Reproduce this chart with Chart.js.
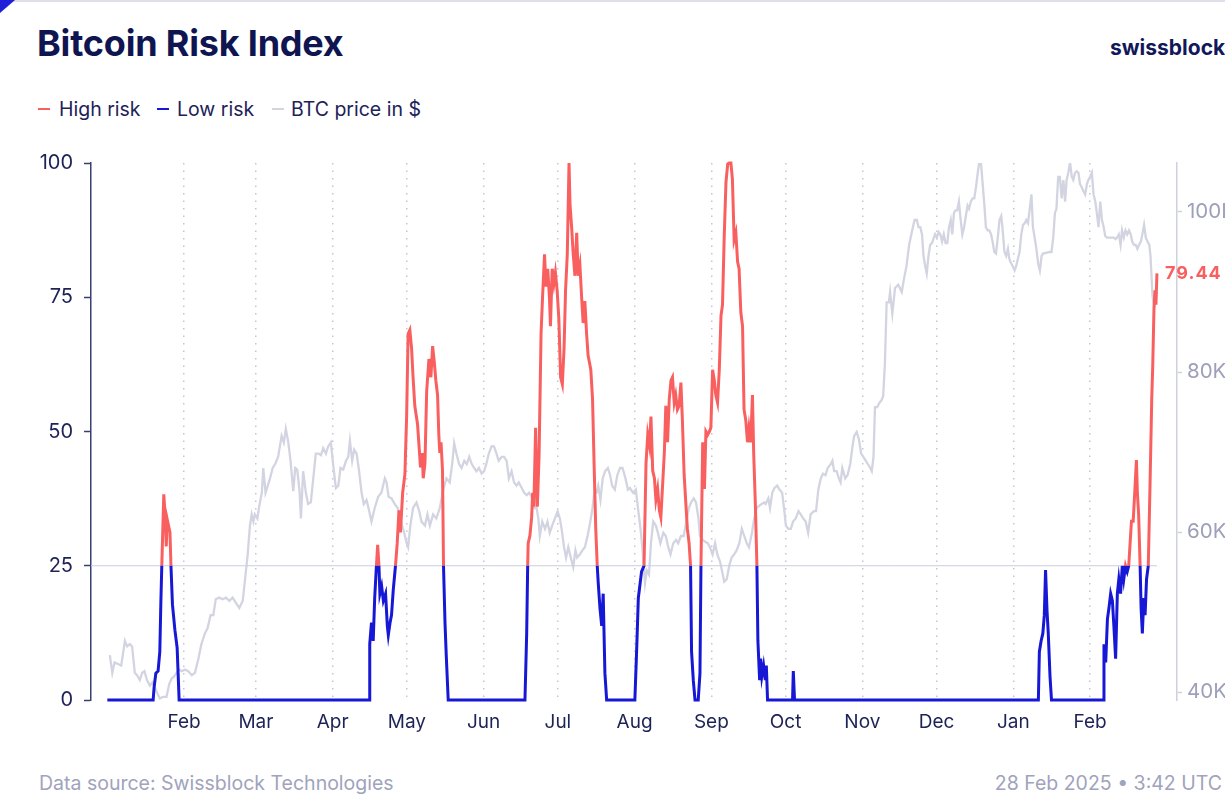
<!DOCTYPE html>
<html lang="en">
<head>
<meta charset="utf-8">
<title>Bitcoin Risk Index</title>
<script src="https://cdn.jsdelivr.net/npm/chart.js@4.4.1/dist/chart.umd.min.js"></script>
<style>
  html, body { margin: 0; padding: 0; background: #fff; overflow: hidden; }
  body { width: 1225px; height: 809px; position: relative; font-family: Inter, 'Noto Sans', sans-serif; color: #151b52; }
  .borde-sup { position: absolute; left: 0; top: 0; width: 1225px; height: 2px; background: #dedfe8; }
  .esquina { position: absolute; left: 0; top: 0; width: 0; height: 0; border-top: 13px solid #1f1fd8; border-right: 15px solid transparent; }
  h1 { position: absolute; left: 37px; top: 21px; margin: 0; font-size: 36px; line-height: 44px; font-weight: 700; letter-spacing: -0.2px; color: #0f1550; white-space: nowrap; }
  .logo { position: absolute; left: 1110px; top: 35px; font-size: 21px; font-weight: 700; color: #12185a; white-space: nowrap; }
  .item { position: absolute; top: 97px; font-size: 19.5px; line-height: 24px; white-space: nowrap; color: #1d2257; }
  .raya { position: absolute; top: 11px; width: 12px; height: 2px; }
  .pie { position: absolute; top: 771px; font-size: 19.5px; line-height: 24px; color: #a0a3bd; white-space: nowrap; }
  #marco { position: absolute; left: 0; top: 140px; width: 1250px; height: 600px; }
</style>
</head>
<body>
  <div class="borde-sup"></div>
  <div class="esquina"></div>
  <h1>Bitcoin Risk Index</h1>
  <div class="logo">swissblock</div>

  <div class="item" style="left:38px"><span class="raya" style="left:0;background:#fa5f5f"></span><span style="margin-left:21px">High risk</span></div>
  <div class="item" style="left:157px"><span class="raya" style="left:0;background:#1717d6"></span><span style="margin-left:20px">Low risk</span></div>
  <div class="item" style="left:272px"><span class="raya" style="left:0;background:#d3d4e1"></span><span style="margin-left:19px">BTC price in $</span></div>

  <div id="marco"><canvas id="grafico"></canvas></div>

  <div class="pie" style="left:39px">Data source: Swissblock Technologies</div>
  <div class="pie" style="right:3px">28 Feb 2025 • 3:42 UTC</div>

<script>
// Índice de riesgo: [día desde 1 ene 2024, valor 0-100]
const riskIndex = [
  [0,0],[18.5,0],[18.9,2.4],[19.6,5],[20.5,5.4],[21.2,9],[21.6,17.8],[22,25],[22.8,38.3],[23.4,34],
  [23.8,28.6],[24.2,33.6],[25.3,31.2],[25.7,25],[26.3,17.8],[27.3,13],[28.2,9.7],[29,0],
  [105.8,0],[106,10.4],[106.7,14.4],[107.4,11],[108,19],[108.7,25],[109.2,28.9],[109.7,25.2],[110.1,19.8],
  [110.8,21.2],[111.5,18.5],[112.4,19.8],[113.1,13.8],[113.5,12.1],[114.2,14.4],[114.8,15.8],[115.5,20.5],
  [116.4,25],[117.1,29.2],[117.8,35.3],[118.4,31.2],[119.3,38.6],[120.2,42],[120.9,52.8],[121.5,68.2],
  [122.2,68.9],[122.9,65.5],[123.5,60.1],[124.2,54.8],[125.3,51.4],[126,46.7],[126.5,43.3],[127.2,46],
  [127.6,41.3],[128.3,44],[129,57.5],[129.9,63.5],[130.7,60.1],[131.4,65.9],[132.1,62.8],[132.7,59.5],
  [133.4,56.8],[133.9,49.4],[134.3,46],[134.8,48],[135.4,42.7],[135.8,25],[136.4,14.4],[136.9,8.4],[137.7,0],
  [168.7,0],[169.4,12.4],[169.8,25],[170,29.2],[170.7,30.6],[171.4,34],[171.8,38.6],[172.3,36],[173,50.7],
  [173.7,36],[174.4,45.4],[175.2,68.2],[175.8,74.9],[176.6,83],[177.2,77],[177.9,80.3],[178.6,74.9],
  [179,69.6],[179.7,80.3],[180.4,77.6],[181,79.6],[181.7,76.3],[182.4,70.9],[183.1,60.1],[183.8,58.8],
  [184.5,65.5],[185.1,76.3],[185.8,83],[186.5,100],[186.9,92.4],[187.6,87.7],[188.2,83],[188.9,79],
  [189.6,87],[190.2,79],[190.9,81],[191.6,74.9],[192.2,70.2],[192.9,74.3],[193.6,68.2],[194.2,64.2],
  [195.3,61.5],[196,56.1],[196.7,42.7],[197.3,31.9],[197.9,25],[198.3,21.8],[199,17.1],[199.7,13.8],
  [200.3,19.8],[201,5],[201.7,0],
  [213.1,0],[213.8,9],[214.5,19],[215.8,23.9],[216.8,25],[217.6,44],[218.3,49.4],[219,47.4],[219.6,52.8],
  [220.3,42.7],[221,41.3],[221.6,37.3],[222.3,39.3],[223,35.3],[223.6,34],[224.3,40],[225,46],[225.6,54.8],
  [226.3,48],[227,56.1],[227.7,59.5],[228.3,60.1],[229,55.4],[229.6,56.8],[230.3,54.1],[231,54.8],
  [231.7,59.1],[232.3,52.1],[233,42],[233.6,37.3],[234.3,31.9],[235,29.2],[235.6,25],[236,9],[236.7,3.7],
  [237.4,0],[238.7,0],[239.4,5],[239.8,25],[240.5,48],[241.2,39.3],[241.8,50],[242.5,49.4],[243.2,50],
  [243.8,50.7],[244.5,61.5],[245.2,59.5],[245.8,56.8],[246.5,55.4],[247.2,61.5],[247.9,71.6],[248.5,73.6],
  [249.2,86.4],[249.9,96.4],[250.6,99.8],[251.2,100],[251.9,100],[252.5,97],[253.2,85.7],[253.9,87],
  [254.6,81.6],[255.2,80.3],[255.9,72.2],[256.6,69.6],[257.2,54.1],[257.9,52.1],[258.6,48],[259.2,50.7],
  [259.9,48],[260.6,56.8],[261.1,46],[261.8,36],[262.4,25],[262.8,11],[263.5,3.7],[263.9,7.7],[264.4,4.4],
  [265.1,6.4],[265.8,3.7],[266.2,6.4],[266.7,0],
  [276.8,0],[277.1,5.4],[277.6,0],
  [376.1,0],[376.5,9],[377.2,11],[377.9,12.4],[378.5,15.8],[379,24.2],[379.6,16.5],[380.1,12.4],[380.8,4.4],[381.4,0],
  [402.3,0],[402.6,10.4],[403.3,7],[404,15.1],[404.6,17.1],[405.3,19.8],[406,18.5],[406.6,13.8],[407.3,7.7],
  [408,19.8],[408.6,22.5],[409.3,19.8],[410,25],[410.6,22.5],[411.3,25],[412,23.9],[412.6,25],[413.7,33.3],
  [414.4,33.3],[415.1,39.3],[415.7,44.7],[416.1,38.6],[416.6,34.6],[417.2,25],[417.6,17.1],[418.1,12.4],
  [418.7,19],[419.2,15.8],[419.8,22.5],[420.5,25],[421.2,40],[421.9,56.1],[422.3,62.2],[422.8,72.9],
  [423.2,76.3],[423.6,73.6],[424,79.44]
];

// Precio BTC en miles de $: [día desde 1 ene 2024, precio]
const btcPrice = [
  [1,44.6],[2,42.4],[2.9,43.7],[4.3,43.5],[5.6,43.3],[7.1,46.4],[8,45.7],[9.1,46],[10,45.7],[11.1,42.4],
  [12,42.1],[13.1,41.5],[14.1,42.4],[15,42.6],[16,41.5],[17.2,40.8],[18.2,41.2],[19.2,40.6],[20.1,39.9],
  [21.2,39.2],[22.6,39.4],[23.9,39.4],[25,41],[26,41.7],[26.9,41.9],[28,42.4],[29,42.8],[30,42.6],
  [31.3,42.8],[32.7,42.6],[34.1,42.1],[35.4,42.4],[36.8,44.2],[38,46],[39.4,47.3],[40.5,48],[41.7,49.6],
  [42.8,49.6],[43.8,51.6],[45.2,51.8],[46.6,51.6],[47.9,51.8],[49.3,51.4],[50.6,51.8],[52,51.1],[53.3,50.5],
  [54.7,51.4],[55.6,54],[56.7,57.2],[57.6,60.8],[58.3,62.2],[59,61.3],[59.6,62.2],[60.6,61.7],[61.4,63.3],
  [62.4,64.9],[63,68],[63.9,64.9],[64.8,65.8],[65.7,66.7],[66.8,68],[67.8,68.5],[69,69.4],[70.4,72],
  [71.3,71.2],[72.1,72.9],[73.1,71.2],[74,68.9],[75.1,65.1],[75.9,68],[76.7,67.8],[77.6,65.3],[78.2,61.7],
  [79.1,67.6],[80.2,64.9],[81.1,63.5],[82.2,63.7],[83.2,66.7],[84.2,69.8],[85.3,69.8],[86.3,69.6],
  [87.2,70.5],[88.3,69.8],[89.2,70.7],[90.3,71.2],[91.2,68.5],[92.3,65.5],[93.3,65.8],[94.2,68],[95.3,67.8],
  [96.4,68.9],[97.3,69.4],[98,71.4],[98.9,68.9],[99.7,70.3],[100.7,69.8],[101.7,67.6],[102.7,64.9],
  [103.6,63.5],[104.7,64],[105.5,63],[106.7,61.3],[108,63],[109.4,64.4],[110.7,64.9],[112.1,66.7],
  [112.8,66.2],[113.6,64.4],[114.8,64.2],[116.1,63.5],[117.3,63],[118.6,61.3],[119.9,59.9],[120.9,58.6],
  [121.5,58.1],[122.4,60.8],[123.5,63],[124.9,63.7],[126,62.6],[126.9,61.3],[128.3,60.8],[129.3,62.2],
  [130.3,60.8],[131.6,62.2],[132.9,61.7],[134.3,63],[135.7,65.3],[137,66.7],[138.3,66.2],[139.3,68.5],
  [140.1,71.1],[141,69.8],[142.1,68.5],[143.1,68],[144.2,68.9],[145.2,68.5],[146.2,69.4],[147.2,68.5],
  [148.2,68],[149.1,67.6],[150.1,68],[151.2,67.3],[152.2,67.6],[153.1,68.5],[154.1,69.8],[155.2,70.7],
  [156.2,70.7],[157.2,69.8],[158.1,68.9],[159.3,69.4],[160.3,69.4],[161.3,68.9],[162.2,66.7],[163.3,67.6],
  [164.3,66.2],[165.3,65.8],[166.2,66.2],[167.4,65.5],[168.4,64.9],[169.4,64.6],[170.4,64.9],[171.4,64.4],
  [172.4,63],[173.4,63],[174.1,61.7],[174.7,59.5],[175.7,61.3],[176.8,60.4],[177.8,61.3],[178.7,59.9],
  [179.7,60.8],[180.8,61.7],[181.9,62.6],[182.8,61.7],[183.5,60.4],[184.5,58.1],[185.3,56.8],[186.2,58.1],
  [187.2,56.8],[188.2,55.6],[189.1,57.7],[189.8,56.8],[190.9,57.2],[191.9,57.7],[192.9,58.1],[194,59.5],
  [195.1,61.3],[196,63],[196.7,64.9],[197.6,64.9],[198.3,65.8],[199.2,64],[200.1,66.7],[201.1,67.6],
  [202.2,68],[203.1,67.1],[203.9,65.8],[205,65.3],[206,67.1],[207.1,68],[208.1,68],[209.3,66.7],
  [210.3,65.3],[211.1,65.5],[212.4,64.9],[213.5,65.3],[214.5,62.6],[215.4,60.4],[216.2,57.7],[217.2,53.6],
  [217.9,55.2],[218.8,54.7],[219.6,58.6],[220.5,61.3],[221.6,60.8],[222.4,59.9],[223.4,58.6],[224.6,59.9],
  [225.6,59.5],[226.6,58.1],[227.5,57.2],[228.6,58.6],[229.7,59],[230.6,58.6],[231.7,59.5],[232.8,59.5],
  [233.9,61.3],[234.9,63],[235.8,63.7],[236.9,64.2],[237.8,63.7],[238.8,61.7],[239.4,59.5],[240.5,59],
  [241.4,58.8],[242.5,58.6],[243.4,58.1],[244.5,57.2],[245.5,58.6],[246.4,57.2],[247.5,56.3],[248.4,55],
  [249.2,53.8],[250.2,54.1],[251.3,55.9],[252.2,56.8],[253.2,57.2],[254.2,57.7],[255.3,58.6],[256.3,60.4],
  [257.3,59.5],[258.3,58.6],[259.2,58.1],[260.4,59.9],[261.3,61.7],[262.3,63],[263.4,63.3],[264.3,63.5],
  [265.3,63.7],[265.9,63.5],[267,64.2],[267.7,63],[268.6,64.9],[269.5,65.5],[270.6,65.8],[271.5,65.3],
  [272.6,64.9],[273.5,62.6],[274.1,60.8],[275.1,60.4],[276.1,60.4],[277,61.3],[278.1,61.7],[279.2,62.6],
  [280.1,62.2],[281.1,61.7],[282.1,61.3],[283.1,59.9],[284.1,62.2],[285.4,62.6],[286.3,62.6],[287.2,65.3],
  [288.2,66.7],[289.1,67.3],[290.1,67.1],[291,68],[292.3,68.5],[292.9,68.9],[293.6,67.6],[294.6,67.6],
  [295.5,66.7],[296.2,66.2],[296.9,68],[298.1,66.7],[299,67.1],[300.1,68.5],[301,70.7],[301.7,72],
  [302.7,72.5],[303.6,71.6],[304.5,69.8],[305.4,69.4],[306.4,68.9],[307.2,68.5],[308.2,68],[308.8,67.6],
  [309.5,69.4],[310.1,75.6],[311,75.6],[311.8,76.1],[312.8,76.5],[313.4,77],[314.1,81],[314.8,88.7],
  [315.7,88.7],[316.2,90],[317.1,87.3],[318.2,90.5],[319.5,90.9],[320.9,90],[321.9,91.8],[322.8,93.2],
  [323.9,95.9],[325.4,98.1],[326.1,99],[327,99],[327.7,98.1],[328.4,98.1],[329.1,97.2],[329.7,94.5],
  [330.4,93.2],[331,92.3],[331.7,94.5],[332.4,95.9],[333.1,96.1],[334.4,97.2],[335.1,96.8],[335.8,97.5],
  [336.5,97.2],[337.2,96.3],[337.9,97.2],[338.6,96.1],[339.3,96.1],[340,98.1],[340.7,99],[341.3,97.2],
  [342,99.9],[342.6,100.2],[343.3,100.2],[344,101.3],[344.7,99],[345.4,97.2],[346.1,98.1],[346.8,99.5],
  [347.5,100.8],[348.1,100.4],[348.8,101.3],[349.5,101.7],[350.2,101.7],[350.9,103.1],[351.6,104.9],
  [352.2,106.2],[352.9,106.2],[353.6,103.5],[354.3,100.8],[354.9,98.1],[355.6,97.7],[356.3,97.7],[357,97.2],
  [357.6,96.3],[358.3,95],[359,94.8],[359.7,96.8],[360.4,99],[361.1,99.5],[361.7,97.7],[362.4,95],
  [363.1,94.5],[363.8,95.4],[364.4,94.1],[365.1,93.6],[365.8,93.2],[366.5,92.7],[367.1,93.2],[367.8,94.1],
  [368.5,95],[369.2,97.2],[369.9,98.4],[370.6,98.6],[371.2,99],[371.9,98.6],[372.6,100.4],[373.3,102.2],
  [373.9,98.1],[374.6,96.8],[375.3,95.4],[376,93.6],[376.7,92.7],[377.4,94.5],[378,94.8],[380.7,95],
  [381.4,95],[382.1,96.8],[382.8,99.9],[383.4,100.4],[384.1,104.4],[384.8,104.4],[385.5,101.7],[386.2,104],
  [386.9,101.3],[387.5,104],[388.2,104.9],[388.9,106.2],[389.6,104.4],[390.2,104],[390.9,104.9],[391.6,105.1],
  [392.3,104.9],[392.9,103.5],[393.6,103.1],[394.3,102.6],[395,102.2],[395.7,103.5],[396.3,104],[397,104.4],
  [397.7,104.9],[398.4,102.2],[399.1,101.3],[399.7,99.9],[400.4,98.1],[401.1,101.3],[401.8,99],[402.5,98.1],
  [403.1,97],[403.8,96.8],[406.6,96.8],[407.3,96.6],[407.9,96.8],[408.6,97.2],[409.3,95.9],[409.9,97.7],
  [410.6,96.8],[411.3,97.7],[412,97.2],[412.7,97.7],[413.4,97.2],[414,96.3],[414.7,95.9],[415.4,95.9],
  [416.1,95.4],[416.8,95.9],[417.5,96.3],[418.1,97.2],[418.8,98.4],[419.5,96.8],[420.2,96.3],[420.9,95.9],
  [421.4,94.5],[421.8,92],[422.2,89.5],[422.6,88.7],[423,88.3],[423.5,89.5],[424,90]
];

// Eje X: primer día de cada mes y su etiqueta
const monthLabels = ['Feb', 'Mar', 'Apr', 'May', 'Jun', 'Jul', 'Aug', 'Sep', 'Oct', 'Nov', 'Dec', 'Jan', 'Feb'];
const monthStartDays = [31, 60, 91, 121, 152, 182, 213, 244, 274, 305, 335, 366, 397];

// Ticks de ambos ejes
const riskTicks = [0, 25, 50, 75, 100];
const priceTicks = [40, 60, 80, 100];
const riskThreshold = 25;

const ROJO = '#fa5f5f';
const AZUL = '#1717d6';
const GRIS = '#d3d4e1';
const NAVY = '#1d2257';

const aPuntos = serie => serie.map(p => ({ x: p[0], y: p[1] }));
const ultimo = riskIndex[riskIndex.length - 1];

// Recorta la línea de riesgo por encima / por debajo del umbral
const recorteUmbral = {
  id: 'recorteUmbral',
  beforeDatasetDraw(chart, args) {
    const ds = chart.data.datasets[args.index];
    if (!ds.zona) return;
    const { ctx, chartArea, scales } = chart;
    const yU = scales.y.getPixelForValue(riskThreshold);
    ctx.save();
    ctx.beginPath();
    if (ds.zona === 'alta') {
      ctx.rect(chartArea.left, 0, chartArea.width, yU);
    } else {
      ctx.rect(chartArea.left, yU, chartArea.width, chart.height - yU);
    }
    ctx.clip();
  },
  afterDatasetDraw(chart, args) {
    const ds = chart.data.datasets[args.index];
    if (ds.zona) chart.ctx.restore();
  }
};

// Valor final en rojo junto al último punto
const etiquetaFinal = {
  id: 'etiquetaFinal',
  afterDatasetsDraw(chart) {
    const { ctx, scales } = chart;
    const x = scales.x.getPixelForValue(ultimo[0]);
    const y = scales.y.getPixelForValue(ultimo[1]);
    ctx.save();
    ctx.font = '700 18px Inter';
    ctx.letterSpacing = '1px';
    ctx.fillStyle = ROJO;
    ctx.textAlign = 'left';
    ctx.textBaseline = 'middle';
    ctx.fillText(ultimo[1].toFixed(2), x + 8, y);
    ctx.restore();
  }
};

Chart.defaults.font.family = 'Inter';

new Chart(document.getElementById('grafico'), {
  type: 'line',
  data: {
    datasets: [
      {
        label: 'BTC price in $',
        data: aPuntos(btcPrice),
        yAxisID: 'y2',
        borderColor: GRIS,
        borderWidth: 2.3,
        pointRadius: 0,
        order: 4
      },
      {
        label: 'umbral',
        data: [{ x: -6.6, y: riskThreshold }, { x: ultimo[0], y: riskThreshold }],
        yAxisID: 'y',
        borderColor: '#cbcde0',
        borderWidth: 1,
        pointRadius: 0,
        order: 3
      },
      {
        label: 'High risk',
        data: aPuntos(riskIndex),
        yAxisID: 'y',
        borderColor: ROJO,
        borderWidth: 3,
        pointRadius: 0,
        clip: false,
        zona: 'alta',
        order: 2
      },
      {
        label: 'Low risk',
        data: aPuntos(riskIndex),
        yAxisID: 'y',
        borderColor: AZUL,
        borderWidth: 3,
        pointRadius: 0,
        clip: false,
        zona: 'baja',
        order: 1
      }
    ]
  },
  options: {
    responsive: true,
    maintainAspectRatio: false,
    animation: false,
    layout: { padding: { top: 23, right: 0, bottom: 0, left: 0 } },
    plugins: { legend: { display: false }, tooltip: { enabled: false } },
    elements: { line: { tension: 0 } },
    scales: {
      x: {
        type: 'linear',
        min: -6.6,
        max: 432.1,
        afterFit: s => { s.height = 40; },
        afterBuildTicks: s => { s.ticks = monthStartDays.map(v => ({ value: v })); },
        grid: { color: '#c4c6d2', lineWidth: 1.5, drawTicks: false },
        border: { display: false, dash: [1.5, 6] },
        ticks: {
          autoSkip: false,
          maxRotation: 0,
          padding: 11,
          color: NAVY,
          font: { size: 19 },
          callback: v => monthLabels[monthStartDays.indexOf(v)]
        }
      },
      y: {
        position: 'left',
        min: 0,
        max: 100,
        afterFit: s => { s.width = 91; },
        afterBuildTicks: s => { s.ticks = riskTicks.map(v => ({ value: v })); },
        grid: { drawOnChartArea: false, tickLength: 7, tickColor: '#3a3f72', tickWidth: 1.5 },
        border: { color: '#3a3f72', width: 1.5 },
        ticks: { padding: 11, color: NAVY, font: { size: 20 } }
      },
      y2: {
        position: 'right',
        min: 39,
        max: 106.125,
        afterFit: s => { s.width = 73; },
        afterBuildTicks: s => { s.ticks = priceTicks.map(v => ({ value: v })); },
        grid: { drawOnChartArea: false, tickLength: 5, tickColor: '#cfd1dd', tickWidth: 1.5 },
        border: { color: '#cfd1dd', width: 1.5 },
        ticks: { padding: 5, color: '#9ea0ba', font: { size: 20.5 }, callback: v => v + 'K' }
      }
    }
  },
  plugins: [recorteUmbral, etiquetaFinal]
});
</script>
</body>
</html>
